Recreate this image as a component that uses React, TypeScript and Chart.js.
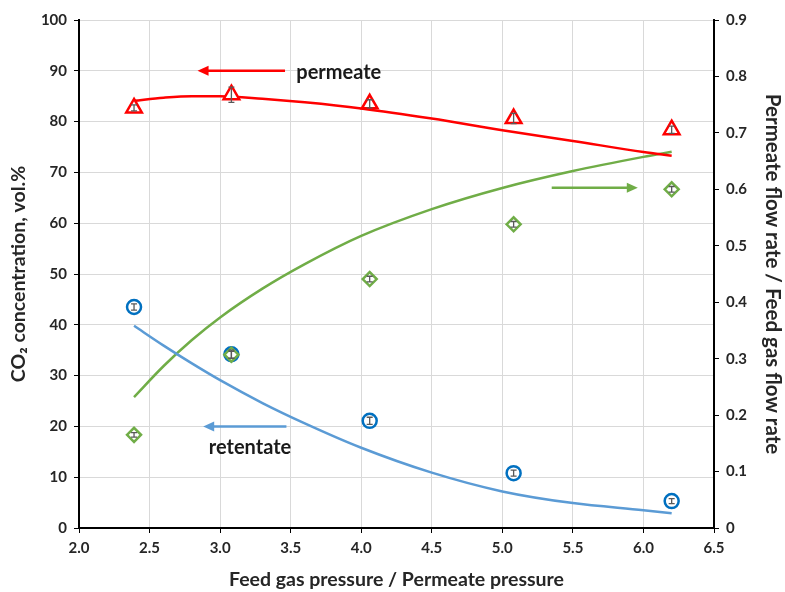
import React, { useEffect, useRef } from "react";
import { Chart, registerables } from "chart.js";
Chart.register(...registerables);

// Measured points
const xPoints = [2.39, 3.08, 4.06, 5.08, 6.2];
const permeateCO2 = [82.7, 85.3, 83.5, 80.6, 78.4];
const permeateErr = [0.6, 1.5, 0.8, 1.0, 0.7];
const retentateCO2 = [43.5, 34.2, 21.1, 10.8, 5.3];
const retentateErr = [0.6, 0.8, 0.7, 0.6, 0.5];
const flowRatio = [0.165, 0.307, 0.441, 0.538, 0.6];
const flowErr = [0.004, 0.006, 0.005, 0.005, 0.005];

// Model curves
const modelX = [2.39, 2.6, 2.8, 3.0, 3.3, 3.6, 4.0, 4.5, 5.0, 5.5, 6.0, 6.2];
const permeateModel = [84.1, 84.7, 85.0, 85.0, 84.5, 83.8, 82.6, 80.6, 78.3, 76.2, 74.0, 73.3];
const retentateModel = [39.8, 35.9, 32.4, 29.1, 24.6, 20.6, 15.8, 10.9, 7.2, 4.9, 3.5, 2.9];
const flowModel = [0.232, 0.287, 0.333, 0.373, 0.424, 0.4675, 0.5175, 0.565, 0.6025, 0.6325, 0.6575, 0.6665];

// Annotations (data units on x / left y axis)
const arrowNotes = [
  { x1: 3.46, x2: 2.84, y: 90, color: "#ff0000" },
  { x1: 3.47, x2: 2.88, y: 20, color: "#5b9bd5" },
  { x1: 5.35, x2: 5.96, y: 67, color: "#70ad47" },
];
const textNotes = [
  { text: "permeate", x: 3.54, y: 89.7 },
  { text: "retentate", x: 2.92, y: 15.9 },
];

const FONT = "Lato, 'Open Sans', sans-serif";

const pair = (xs: number[], ys: number[]) => xs.map((x, i) => ({ x, y: ys[i] }));

const overlayPlugin = {
  id: "overlay",
  afterDatasetsDraw(chart: any) {
    const ctx = chart.ctx;
    const xs = chart.scales.x;
    const y = chart.scales.y;
    const y1 = chart.scales.y1;
    const errSets: [number[], number[], any][] = [
      [permeateCO2, permeateErr, y],
      [retentateCO2, retentateErr, y],
      [flowRatio, flowErr, y1],
    ];
    ctx.save();
    ctx.strokeStyle = "#595959";
    ctx.lineWidth = 1.3;
    errSets.forEach(([vals, errs, sc]) => {
      vals.forEach((v, i) => {
        const px = xs.getPixelForValue(xPoints[i]);
        const top = sc.getPixelForValue(v + errs[i]);
        const bot = sc.getPixelForValue(v - errs[i]);
        ctx.beginPath();
        ctx.moveTo(px, top);
        ctx.lineTo(px, bot);
        ctx.moveTo(px - 3, top);
        ctx.lineTo(px + 3, top);
        ctx.moveTo(px - 3, bot);
        ctx.lineTo(px + 3, bot);
        ctx.stroke();
      });
    });
    arrowNotes.forEach((a) => {
      const px1 = xs.getPixelForValue(a.x1);
      const px2 = xs.getPixelForValue(a.x2);
      const py = y.getPixelForValue(a.y);
      const dir = px2 > px1 ? 1 : -1;
      ctx.strokeStyle = a.color;
      ctx.fillStyle = a.color;
      ctx.lineWidth = 2.5;
      ctx.beginPath();
      ctx.moveTo(px1, py);
      ctx.lineTo(px2 - dir * 8, py);
      ctx.stroke();
      ctx.beginPath();
      ctx.moveTo(px2, py);
      ctx.lineTo(px2 - dir * 11, py - 5);
      ctx.lineTo(px2 - dir * 11, py + 5);
      ctx.closePath();
      ctx.fill();
    });
    ctx.fillStyle = "#1a1a1a";
    ctx.font = `bold 20px ${FONT}`;
    ctx.textAlign = "left";
    ctx.textBaseline = "middle";
    textNotes.forEach((t) => {
      ctx.fillText(t.text, xs.getPixelForValue(t.x), y.getPixelForValue(t.y));
    });
    ctx.restore();
  },
};

export default function App() {
  const ref = useRef<HTMLCanvasElement>(null);
  useEffect(() => {
    document.body.style.margin = "0";
    const chart = new Chart(ref.current!, {
      type: "scatter",
      data: {
        datasets: [
          {
            label: "permeate",
            data: pair(xPoints, permeateCO2),
            yAxisID: "y",
            pointStyle: "triangle",
            pointRadius: 9,
            pointBorderWidth: 2.5,
            borderColor: "#ff0000",
            backgroundColor: "#ffffff",
            showLine: false,
            order: 1,
          },
          {
            label: "retentate",
            data: pair(xPoints, retentateCO2),
            yAxisID: "y",
            pointStyle: "circle",
            pointRadius: 7,
            pointBorderWidth: 2.5,
            borderColor: "#0070c0",
            backgroundColor: "#ffffff",
            showLine: false,
            order: 1,
          },
          {
            label: "flow",
            data: pair(xPoints, flowRatio),
            yAxisID: "y1",
            pointStyle: "rectRot",
            pointRadius: 7,
            pointBorderWidth: 2.5,
            borderColor: "#70ad47",
            backgroundColor: "#ffffff",
            showLine: false,
            order: 0,
          },
          {
            label: "permeate model",
            data: pair(modelX, permeateModel),
            yAxisID: "y",
            showLine: true,
            pointRadius: 0,
            borderColor: "#ff0000",
            borderWidth: 2.5,
            cubicInterpolationMode: "monotone",
            order: 2,
          },
          {
            label: "retentate model",
            data: pair(modelX, retentateModel),
            yAxisID: "y",
            showLine: true,
            pointRadius: 0,
            borderColor: "#5b9bd5",
            borderWidth: 2.5,
            cubicInterpolationMode: "monotone",
            order: 2,
          },
          {
            label: "flow model",
            data: pair(modelX, flowModel),
            yAxisID: "y1",
            showLine: true,
            pointRadius: 0,
            borderColor: "#70ad47",
            borderWidth: 2.5,
            cubicInterpolationMode: "monotone",
            order: 2,
          },
        ],
      },
      options: {
        animation: false,
        responsive: false,
        layout: { padding: { top: 20, left: 0, right: 0, bottom: 0 } },
        plugins: { legend: { display: false }, tooltip: { enabled: false } },
        scales: {
          x: {
            type: "linear",
            min: 2,
            max: 6.5,
            ticks: {
              stepSize: 0.5,
              color: "#262626",
              font: { family: FONT, size: 15, weight: "bold" },
              padding: 6,
              callback: (v: any) => Number(v).toFixed(1),
            },
            grid: { color: "#d9d9d9", tickColor: "#000", tickLength: 5, lineWidth: 1 },
            border: { color: "#000", width: 2 },
            title: {
              display: true,
              text: "Feed gas pressure / Permeate pressure",
              color: "#262626",
              font: { family: FONT, size: 19.5, weight: "bold" },
              padding: { top: 2, bottom: 1 },
            },
            afterFit: (s: any) => { s.height = 64; },
          },
          y: {
            position: "left",
            min: 0,
            max: 100,
            ticks: {
              stepSize: 10,
              color: "#262626",
              font: { family: FONT, size: 15, weight: "bold" },
              padding: 7,
            },
            grid: { color: "#d9d9d9", tickColor: "#000", tickLength: 5 },
            border: { color: "#000", width: 2 },
            title: {
              display: true,
              text: "CO₂ concentration, vol.%",
              color: "#262626",
              font: { family: FONT, size: 19.5, weight: "bold" },
              padding: { top: 7, bottom: 0 },
            },
            afterFit: (s: any) => { s.width = 79; },
          },
          y1: {
            position: "right",
            min: 0,
            max: 0.9,
            ticks: {
              stepSize: 0.1,
              color: "#262626",
              font: { family: FONT, size: 15, weight: "bold" },
              padding: 7,
              callback: (v: any) => (Math.abs(v) < 1e-9 ? "0" : Number(v).toFixed(1)),
            },
            grid: { drawOnChartArea: false, tickColor: "#000", tickLength: 5 },
            border: { color: "#000", width: 2 },
            title: {
              display: true,
              text: "Permeate flow rate / Feed gas flow rate",
              color: "#262626",
              font: { family: FONT, size: 20.5, weight: "bold" },
              padding: { top: 0, bottom: 0 },
            },
            afterFit: (s: any) => { s.width = 71; },
          },
        },
      },
      plugins: [overlayPlugin],
    } as any);
    return () => chart.destroy();
  }, []);
  return (
    <div style={{ width: 785, height: 592, background: "#fff" }}>
      <canvas ref={ref} width={785} height={592} />
    </div>
  );
}
